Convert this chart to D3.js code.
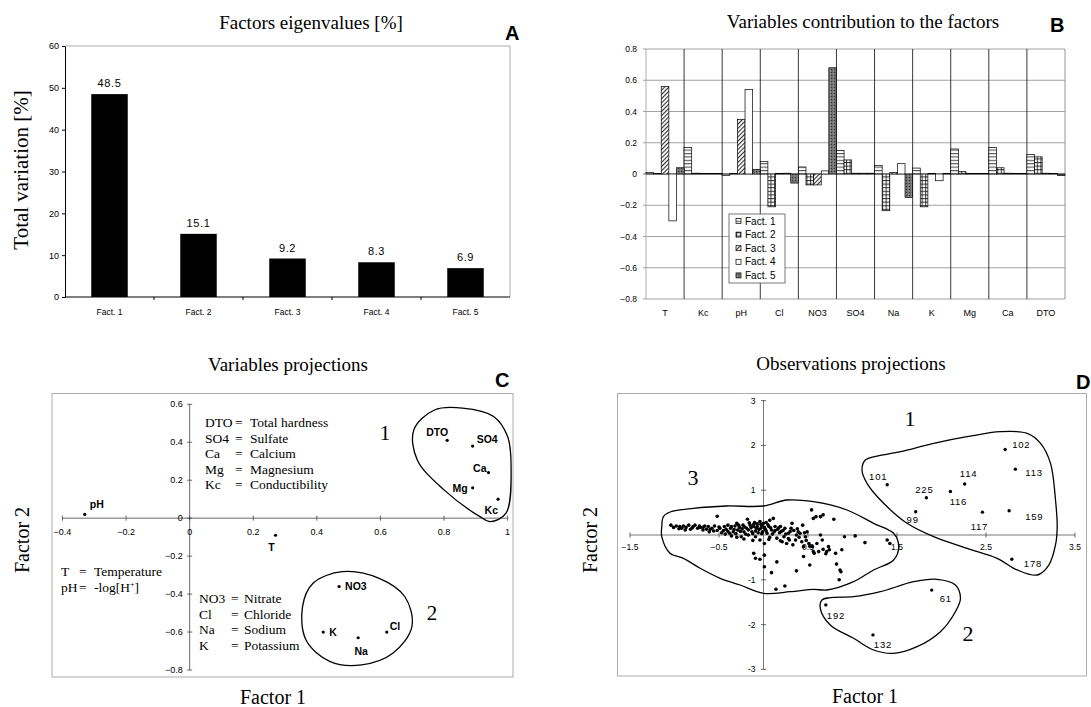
<!DOCTYPE html>
<html>
<head>
<meta charset="utf-8">
<script src="https://cdnjs.cloudflare.com/ajax/libs/d3/7.8.5/d3.min.js"></script>
<style>
  body { margin: 0; background: #fff; }
</style>
</head>
<body>
<div id="graphicContainer"></div>
<script>
// ---------- data ----------
// A: eigenvalues
var factors = ["Fact. 1", "Fact. 2", "Fact. 3", "Fact. 4", "Fact. 5"]
var eigenvalues = [48.5, 15.1, 9.2, 8.3, 6.9]
var eigenTicks = [0, 10, 20, 30, 40, 50, 60]

// B: variables contribution to the factors
var variables = ["T", "Kc", "pH", "Cl", "NO3", "SO4", "Na", "K", "Mg", "Ca", "DTO"]
var fact1 = [0.01, 0.17, -0.01, 0.08, 0.045, 0.15, 0.055, 0.038, 0.16, 0.17, 0.125]
var fact2 = [0.003, 0.005, 0.003, -0.21, -0.07, 0.09, -0.235, -0.21, 0.015, 0.04, 0.11]
var fact3 = [0.56, 0.003, 0.35, 0.004, -0.07, 0.005, 0.01, 0.003, 0.003, 0.005, 0.005]
var fact4 = [-0.30, 0.003, 0.54, 0.005, 0.02, 0.005, 0.066, -0.043, 0.003, 0.003, 0.003]
var fact5 = [0.04, 0.003, 0.03, -0.058, 0.68, 0.005, -0.15, 0.003, 0.003, 0.003, -0.01]
var contribTicks = [-0.8, -0.6, -0.4, -0.2, 0, 0.2, 0.4, 0.6, 0.8]

// C: variables projections
var varNames = ["pH", "T", "DTO", "SO4", "Ca", "Mg", "Kc", "NO3", "Cl", "Na", "K"]
var varF1 = [-0.33, 0.27, 0.81, 0.89, 0.94, 0.89, 0.97, 0.47, 0.62, 0.53, 0.42]
var varF2 = [0.02, -0.09, 0.41, 0.38, 0.24, 0.16, 0.10, -0.36, -0.60, -0.63, -0.60]
var varTicksX = [-0.4, -0.2, 0, 0.2, 0.4, 0.6, 0.8, 1]
var varTicksY = [-0.8, -0.6, -0.4, -0.2, 0, 0.2, 0.4, 0.6]
var varGroup1 = [[0.77, 0.57], [0.705, 0.465], [0.716, 0.307], [0.80, 0.149], [0.913, 0.008], [0.946, -0.018],
  [0.995, 0.026], [1.011, 0.27], [1.0, 0.43], [0.956, 0.536], [0.858, 0.58]]
var varGroup2 = [[0.48, -0.282], [0.388, -0.343], [0.355, -0.466], [0.366, -0.642], [0.442, -0.756], [0.541, -0.773],
  [0.639, -0.712], [0.699, -0.572], [0.677, -0.414], [0.596, -0.317]]
var legendTopAbbr = ["DTO", "SO4", "Ca", "Mg", "Kc"]
var legendTopText = ["Total hardness", "Sulfate", "Calcium", "Magnesium", "Conductibility"]
var legendLeftAbbr = ["T", "pH"]
var legendBottomAbbr = ["NO3", "Cl", "Na", "K"]
var legendBottomText = ["Nitrate", "Chloride", "Sodium", "Potassium"]

// D: observations projections
var obsIds = ["102", "113", "114", "116", "225", "101", "99", "117", "159", "178", "61", "132", "192"]
var obsF1 = [2.715, 2.83, 2.26, 2.10, 1.83, 1.39, 1.71, 2.46, 2.76, 2.79, 1.89, 1.23, 0.70]
var obsF2 = [1.91, 1.47, 1.14, 0.97, 0.83, 1.12, 0.52, 0.51, 0.54, -0.54, -1.23, -2.23, -1.56]
var obsCloud = [
  [-1.04, 0.22], [-1.01, 0.17], [-0.98, 0.20], [-0.95, 0.14], [-0.94, 0.19], [-0.92, 0.15], [-0.90, 0.20],
  [-0.88, 0.11], [-0.87, 0.17], [-0.84, 0.22], [-0.82, 0.13], [-0.80, 0.16], [-0.79, 0.19], [-0.77, 0.22],
  [-0.74, 0.15], [-0.72, 0.20], [-0.71, 0.17], [-0.68, 0.11], [-0.68, 0.17], [-0.66, 0.20], [-0.64, 0.13],
  [-0.62, 0.19], [-0.61, 0.07], [-0.60, 0.12], [-0.58, 0.15], [-0.56, 0.09], [-0.55, 0.20], [-0.52, 0.42],
  [-0.52, 0.10], [-0.50, 0.18], [-0.49, 0.15], [-0.47, 0.05], [-0.45, 0.10], [-0.44, 0.19], [-0.43, 0.02],
  [-0.42, 0.13], [-0.40, 0.22], [-0.40, 0.08], [-0.38, 0.04], [-0.37, 0.15], [-0.36, 0.19], [-0.36, -0.02],
  [-0.34, 0.07], [-0.33, 0.12], [-0.32, 0.20], [-0.31, 0.03], [-0.30, 0.26], [-0.30, -0.05], [-0.29, 0.11],
  [-0.28, 0.22], [-0.27, 0.17], [-0.26, 0.08], [-0.25, -0.04], [-0.24, 0.14], [-0.23, 0.22], [-0.22, 0.07],
  [-0.22, -0.09], [-0.21, 0.18], [-0.20, 0.02], [-0.19, 0.15], [-0.18, 0.35], [-0.17, 0.00], [-0.17, 0.11],
  [-0.16, 0.27], [-0.15, 0.22], [-0.14, 0.16], [-0.13, 0.07], [-0.12, 0.03], [-0.12, -0.12], [-0.11, 0.19],
  [-0.11, 0.24], [-0.10, 0.28], [-0.09, -0.04], [-0.09, 0.09], [-0.08, 0.15], [-0.07, 0.25], [-0.07, 0.19],
  [-0.06, 0.05], [-0.05, 0.12], [-0.04, 0.30], [-0.04, -0.11], [-0.03, 0.15], [-0.03, 0.24], [-0.02, 0.20],
  [-0.02, 0.03], [-0.01, 0.07], [0.00, 0.26], [0.01, -0.19], [0.01, 0.17], [0.02, 0.13], [0.03, 0.28],
  [0.03, 0.09], [0.04, 0.04], [0.05, 0.23], [0.06, 0.19], [0.06, -0.10], [0.07, 0.33], [0.07, -0.05],
  [0.08, 0.16], [0.09, 0.11], [0.10, 0.02], [0.11, 0.37], [0.12, 0.07], [0.13, 0.19], [0.13, 0.10],
  [0.15, -0.07], [0.16, 0.13], [0.17, 0.16], [0.18, 0.05], [0.19, 0.19], [0.19, -0.13], [0.20, 0.08],
  [0.21, -0.15], [0.22, 0.10], [0.23, -0.04], [0.24, 0.15], [0.25, 0.02], [0.26, -0.19], [0.28, 0.04],
  [0.28, -0.08], [0.29, -0.11], [0.30, 0.08], [0.31, 0.15], [0.32, 0.26], [0.33, -0.22], [0.34, 0.10],
  [0.36, -0.11], [0.37, 0.00], [0.38, 0.14], [0.39, 0.07], [0.40, -0.05], [0.41, 0.04], [0.43, -0.15],
  [0.44, 0.22], [0.45, -0.26], [0.46, 0.05], [0.47, -0.04], [0.48, -0.12], [0.49, 0.07], [0.51, -0.19],
  [0.52, -0.25], [0.54, 0.56], [0.55, -0.26], [0.56, 0.37], [0.57, -0.41], [0.59, 0.41], [0.60, -0.19],
  [0.62, -0.37], [0.64, 0.41], [0.64, 0.00], [0.66, -0.11], [0.67, 0.45], [0.70, -0.42], [0.71, -0.37],
  [0.73, -0.26], [0.74, -0.33], [0.79, 0.35], [0.81, -0.41], [0.82, -0.65], [0.86, -0.78], [0.87, -0.82],
  [0.88, -0.33], [0.85, -1.00], [0.91, -0.04], [1.03, -0.02], [1.14, -0.17], [1.39, -0.11], [1.42, -0.19],
  [-0.11, -0.41], [-0.09, -0.52], [-0.04, -0.54], [0.01, -0.45], [0.01, -0.71], [0.09, -0.84], [0.15, -0.60],
  [0.14, -1.21], [0.24, -1.14], [0.37, -0.80], [0.45, -0.48], [0.52, -0.67], [0.56, -0.37], [0.67, -0.32]
]
var obsTicksX = [-1.5, -0.5, 0.5, 1.5, 2.5, 3.5]
var obsTicksY = [-3, -2, -1, 1, 2, 3]
var obsGroup1 = [[1.144, 1.674], [1.107, 1.451], [1.163, 1.154], [1.35, 0.708], [1.613, 0.261], [1.912, -0.038],
  [2.288, -0.297], [2.625, -0.52], [2.85, -0.78], [3.075, -0.893], [3.206, -0.67], [3.281, -0.223], [3.30, 0.185],
  [3.281, 0.78], [3.225, 1.60], [3.113, 2.047], [2.963, 2.27], [2.663, 2.306], [2.288, 2.194], [1.912, 2.047],
  [1.538, 1.859], [1.276, 1.763]]
var obsGroup2 = [[0.657, -1.451], [0.638, -1.636], [0.75, -2.009], [1.012, -2.306], [1.237, -2.567], [1.462, -2.641],
  [1.726, -2.493], [1.988, -2.158], [2.156, -1.712], [2.213, -1.413], [2.156, -1.116], [1.95, -0.989],
  [1.687, -1.042], [1.313, -1.266], [1.012, -1.377], [0.75, -1.40]]
var obsGroup3 = [[-1.125, 0.408], [-1.143, 0.185], [-1.143, -0.038], [-1.05, -0.408], [-0.90, -0.52], [-0.712, -0.743],
  [-0.487, -0.966], [-0.262, -1.116], [0, -1.301], [0.30, -1.266], [0.562, -1.212], [0.713, -1.228], [1.012, -1.042],
  [1.237, -0.781], [1.462, -0.558], [1.519, -0.261], [1.462, 0.038], [1.237, 0.261], [0.938, 0.558], [0.562, 0.743],
  [0.263, 0.781], [0, 0.647], [-0.412, 0.647], [-0.787, 0.596], [-1.05, 0.513]]

// ---------- layout ----------
var serif = '"Liberation Serif", "Times New Roman", serif'
var sans = '"Liberation Sans", Arial, Helvetica, sans-serif'

var svg = d3.select("#graphicContainer").append("svg")
  .attr("width", 1091)
  .attr("height", 707)
  .style("display", "block")

function label(g, x, y, txt, size, family, anchor, weight) {
  return g.append("text")
    .attr("x", x)
    .attr("y", y)
    .attr("font-family", family)
    .attr("font-size", size)
    .attr("font-weight", weight || "normal")
    .attr("text-anchor", anchor || "start")
    .attr("fill", "#000")
    .text(txt)
}

function vLabel(g, x, y, txt, size) {
  return g.append("text")
    .attr("transform", "translate(" + x + "," + y + ") rotate(-90)")
    .attr("font-family", serif)
    .attr("font-size", size)
    .attr("text-anchor", "middle")
    .text(txt)
}

// patterns for panel B
var defs = svg.append("defs")
var p1 = defs.append("pattern").attr("id", "pat0").attr("patternUnits", "userSpaceOnUse")
  .attr("width", 4).attr("height", 3.4)
p1.append("rect").attr("width", 4).attr("height", 3.4).attr("fill", "#fff")
p1.append("line").attr("x1", 0).attr("x2", 4).attr("y1", 0.6).attr("y2", 0.6).attr("stroke", "#000").attr("stroke-width", 0.8)

var p2 = defs.append("pattern").attr("id", "pat1").attr("patternUnits", "userSpaceOnUse")
  .attr("width", 3.6).attr("height", 3.6)
p2.append("rect").attr("width", 3.6).attr("height", 3.6).attr("fill", "#fff")
p2.append("line").attr("x1", 0).attr("x2", 3.6).attr("y1", 0.6).attr("y2", 0.6).attr("stroke", "#000").attr("stroke-width", 0.8)
p2.append("line").attr("x1", 0.6).attr("x2", 0.6).attr("y1", 0).attr("y2", 3.6).attr("stroke", "#000").attr("stroke-width", 0.8)

var p3 = defs.append("pattern").attr("id", "pat2").attr("patternUnits", "userSpaceOnUse")
  .attr("width", 3).attr("height", 3).attr("patternTransform", "rotate(45)")
p3.append("rect").attr("width", 3).attr("height", 3).attr("fill", "#fff")
p3.append("line").attr("x1", 0.6).attr("x2", 0.6).attr("y1", 0).attr("y2", 3).attr("stroke", "#000").attr("stroke-width", 0.9)

var p4 = defs.append("pattern").attr("id", "pat3").attr("patternUnits", "userSpaceOnUse")
  .attr("width", 4).attr("height", 4)
p4.append("rect").attr("width", 4).attr("height", 4).attr("fill", "#fff")

var p5 = defs.append("pattern").attr("id", "pat4").attr("patternUnits", "userSpaceOnUse")
  .attr("width", 3).attr("height", 3)
p5.append("rect").attr("width", 3).attr("height", 3).attr("fill", "#707070")
p5.append("rect").attr("x", 0).attr("y", 0).attr("width", 1).attr("height", 1).attr("fill", "#333")
p5.append("rect").attr("x", 2).attr("y", 1.5).attr("width", 1).attr("height", 1).attr("fill", "#aaa")

// ========== PANEL A ==========
var gA = svg.append("g")
var xA = d3.scaleBand().domain(factors).range([65, 510]).paddingInner(0.59).paddingOuter(0.295)
var yA = d3.scaleLinear().domain([0, 60]).range([297, 46])

label(gA, 311, 29, "Factors eigenvalues [%]", 19, serif, "middle")
label(gA, 505, 40, "A", 20, sans, "start", "bold")
vLabel(gA, 28, 170, "Total variation [%]", 21)

gA.append("path")
  .attr("d", "M" + xA.range()[0] + "," + yA(60) + "H" + xA.range()[1] + "V" + yA(0))
  .attr("fill", "none").attr("stroke", "#999").attr("stroke-width", 0.8)

gA.append("g")
  .attr("transform", "translate(" + xA.range()[0] + ",0)")
  .call(d3.axisLeft(yA).tickValues(eigenTicks).tickSize(3).tickSizeOuter(0).tickPadding(3))
  .attr("font-family", sans).attr("font-size", 9)

gA.append("line")
  .attr("x1", xA.range()[0]).attr("x2", xA.range()[1])
  .attr("y1", yA(0)).attr("y2", yA(0))
  .attr("stroke", "#000")

gA.selectAll(".sep")
  .data(d3.range(1, factors.length))
  .enter().append("line")
  .attr("x1", function (d) { return xA.range()[0] + d * xA.step() })
  .attr("x2", function (d) { return xA.range()[0] + d * xA.step() })
  .attr("y1", yA(0)).attr("y2", yA(0) + 3)
  .attr("stroke", "#000")

gA.selectAll(".bar")
  .data(factors)
  .enter().append("rect")
  .attr("class", "bar")
  .attr("x", function (d) { return xA(d) })
  .attr("y", function (d, i) { return yA(eigenvalues[i]) })
  .attr("width", xA.bandwidth())
  .attr("height", function (d, i) { return yA(0) - yA(eigenvalues[i]) })
  .attr("fill", "#000")

gA.selectAll(".val")
  .data(factors)
  .enter().append("text")
  .attr("x", function (d) { return xA(d) + xA.bandwidth() / 2 })
  .attr("y", function (d, i) { return yA(eigenvalues[i]) - 7 })
  .attr("text-anchor", "middle")
  .attr("font-family", sans).attr("font-size", 11).attr("letter-spacing", 0.6)
  .text(function (d, i) { return eigenvalues[i] })

gA.selectAll(".cat")
  .data(factors)
  .enter().append("text")
  .attr("x", function (d) { return xA(d) + xA.bandwidth() / 2 })
  .attr("y", 315)
  .attr("text-anchor", "middle")
  .attr("font-family", sans).attr("font-size", 8.5)
  .text(function (d) { return d })

// ========== PANEL B ==========
var gB = svg.append("g")
var series = [fact1, fact2, fact3, fact4, fact5]
var xB = d3.scaleBand().domain(variables).range([646, 1065])
var xS = d3.scaleBand().domain(d3.range(series.length)).range([0, xB.bandwidth()])
var yB = d3.scaleLinear().domain([-0.8, 0.8]).range([299, 49])

label(gB, 863, 28, "Variables contribution to the factors", 19, serif, "middle")
label(gB, 1050, 32, "B", 20, sans, "start", "bold")

gB.selectAll(".hgrid")
  .data(contribTicks)
  .enter().append("line")
  .attr("x1", xB.range()[0] - 3).attr("x2", xB.range()[1])
  .attr("y1", function (d) { return yB(d) }).attr("y2", function (d) { return yB(d) })
  .attr("stroke", function (d) { return d === 0 ? "#555" : "#8c8c8c" })
  .attr("stroke-width", 0.8)

gB.selectAll(".vgrid")
  .data(variables.slice(1).concat(["end"]))
  .enter().append("line")
  .attr("x1", function (d) { return d === "end" ? xB.range()[1] : xB(d) })
  .attr("x2", function (d) { return d === "end" ? xB.range()[1] : xB(d) })
  .attr("y1", yB(0.8)).attr("y2", yB(-0.8))
  .attr("stroke", function (d) { return d === "end" ? "#888" : "#222" })
  .attr("stroke-width", 0.9)

gB.append("line")
  .attr("x1", xB.range()[0]).attr("x2", xB.range()[0])
  .attr("y1", yB(0.8)).attr("y2", yB(-0.8))
  .attr("stroke", "#999").attr("stroke-width", 0.8)

gB.selectAll(".ytick")
  .data(contribTicks)
  .enter().append("text")
  .attr("x", 637).attr("y", function (d) { return yB(d) + 3 })
  .attr("text-anchor", "end")
  .attr("font-family", sans).attr("font-size", 8.5)
  .text(function (d) { return d === 0 ? "0" : d3.format(".1f")(d) })

series.forEach(function (vals, s) {
  gB.selectAll(".bar" + s)
    .data(variables)
    .enter().append("rect")
    .attr("x", function (d) { return xB(d) + xS(s) })
    .attr("y", function (d, i) { return yB(Math.max(vals[i], 0)) })
    .attr("width", xS.bandwidth())
    .attr("height", function (d, i) { return Math.abs(yB(vals[i]) - yB(0)) })
    .attr("fill", "url(#pat" + s + ")")
    .attr("stroke", "#000").attr("stroke-width", 0.7)
})

gB.selectAll(".vcat")
  .data(variables)
  .enter().append("text")
  .attr("x", function (d) { return xB(d) + xB.bandwidth() / 2 })
  .attr("y", 316)
  .attr("text-anchor", "middle")
  .attr("font-family", sans).attr("font-size", 9)
  .text(function (d) { return d })

var legB = gB.append("g").attr("transform", "translate(729,214)")
legB.append("rect").attr("width", 56).attr("height", 69)
  .attr("fill", "#fff").attr("stroke", "#555").attr("stroke-width", 0.8)
factors.forEach(function (f, s) {
  legB.append("rect")
    .attr("x", 7).attr("y", 4.5 + s * 13.6)
    .attr("width", 5).attr("height", 5)
    .attr("fill", "url(#pat" + s + ")").attr("stroke", "#000").attr("stroke-width", 0.7)
  label(legB, 16, 10.5 + s * 13.6, f, 10, sans)
})

// ========== PANEL C ==========
var gC = svg.append("g")
var xC = d3.scaleLinear().domain([-0.4, 1]).range([62.5, 507.6])
var yC = d3.scaleLinear().domain([-0.8, 0.6]).range([670, 404.3])

label(gC, 288, 371, "Variables projections", 19, serif, "middle")
label(gC, 495, 387, "C", 20, sans, "start", "bold")
vLabel(gC, 29, 540, "Factor 2", 20)
label(gC, 273, 704, "Factor 1", 20, serif, "middle")

gC.append("rect").attr("x", 52).attr("y", 393.5).attr("width", 461).attr("height", 283.5)
  .attr("fill", "none").attr("stroke", "#999").attr("stroke-width", 0.8)

gC.append("line").attr("x1", xC(-0.4)).attr("x2", xC(1)).attr("y1", yC(0)).attr("y2", yC(0))
  .attr("stroke", "#444").attr("stroke-width", 0.8)
gC.append("line").attr("x1", xC(0)).attr("x2", xC(0)).attr("y1", yC(0.6)).attr("y2", yC(-0.8))
  .attr("stroke", "#444").attr("stroke-width", 0.8)

gC.selectAll(".xt").data(varTicksX).enter().append("line")
  .attr("x1", function (d) { return xC(d) }).attr("x2", function (d) { return xC(d) })
  .attr("y1", yC(0) - 2.5).attr("y2", yC(0) + 2.5).attr("stroke", "#444").attr("stroke-width", 0.8)
gC.selectAll(".yt").data(varTicksY).enter().append("line")
  .attr("x1", xC(0) - 2.5).attr("x2", xC(0) + 2.5)
  .attr("y1", function (d) { return yC(d) }).attr("y2", function (d) { return yC(d) })
  .attr("stroke", "#444").attr("stroke-width", 0.8)

gC.selectAll(".xl").data(varTicksX).enter().append("text")
  .attr("x", function (d) { return xC(d) }).attr("y", yC(0) + 17)
  .attr("text-anchor", "middle").attr("font-family", sans).attr("font-size", 9)
  .text(function (d) { return d === 0 ? "0" : (d === 1 ? "1" : d3.format(".1f")(d)) })
gC.selectAll(".yl").data(varTicksY).enter().append("text")
  .attr("x", xC(0) - 7).attr("y", function (d) { return yC(d) + 3 })
  .attr("text-anchor", "end").attr("font-family", sans).attr("font-size", 9)
  .text(function (d) { return d === 0 ? "0" : d3.format(".1f")(d) })

var closedCurve = function (xs, ys) {
  return d3.line()
    .x(function (d) { return xs(d[0]) })
    .y(function (d) { return ys(d[1]) })
    .curve(d3.curveCatmullRomClosed.alpha(0.5))
}

;[varGroup1, varGroup2].forEach(function (grp) {
  gC.append("path").attr("d", closedCurve(xC, yC)(grp))
    .attr("fill", "none").attr("stroke", "#000").attr("stroke-width", 1.3)
})

gC.selectAll(".vdot").data(varNames).enter().append("circle")
  .attr("cx", function (d, i) { return xC(varF1[i]) })
  .attr("cy", function (d, i) { return yC(varF2[i]) })
  .attr("r", 1.6).attr("fill", "#000")

var varLabelPos = {
  "DTO": [1, -4, "end"], "SO4": [4, -3, "start"], "Ca": [-2, -1, "end"], "Mg": [-5, 4, "end"],
  "Kc": [0, 15, "end"], "pH": [5, -6, "start"], "T": [-4, 16, "middle"], "NO3": [6, 4, "start"],
  "Cl": [3, -2, "start"], "K": [6, 4, "start"], "Na": [3, 17, "middle"]
}
gC.selectAll(".vlab").data(varNames).enter().append("text")
  .attr("x", function (d, i) { return xC(varF1[i]) + varLabelPos[d][0] })
  .attr("y", function (d, i) { return yC(varF2[i]) + varLabelPos[d][1] })
  .attr("text-anchor", function (d) { return varLabelPos[d][2] })
  .attr("font-family", sans).attr("font-size", 10.5).attr("font-weight", "bold")
  .text(function (d) { return d })

label(gC, 385, 440, "1", 21, serif, "middle")
label(gC, 432, 620, "2", 21, serif, "middle")

legendTopAbbr.forEach(function (a, i) {
  var yy = 427 + i * 15.6
  label(gC, 205, yy, a, 13.5, serif)
  label(gC, 235, yy, "=", 13.5, serif)
  label(gC, 250, yy, legendTopText[i], 13.5, serif)
})

label(gC, 61, 576, legendLeftAbbr[0], 13.5, serif)
label(gC, 79, 576, "=", 13.5, serif)
label(gC, 94, 576, "Temperature", 13.5, serif)
label(gC, 61, 592, legendLeftAbbr[1], 13.5, serif)
label(gC, 79, 592, "=", 13.5, serif)
var ph = label(gC, 94, 592, "-log[H", 13.5, serif)
ph.append("tspan").attr("font-size", 8).attr("dy", -5).text("+")
ph.append("tspan").attr("dy", 5).text("]")

legendBottomAbbr.forEach(function (a, i) {
  var yy = 603 + i * 15.6
  label(gC, 199, yy, a, 13.5, serif)
  label(gC, 231, yy, "=", 13.5, serif)
  label(gC, 244, yy, legendBottomText[i], 13.5, serif)
})

// ========== PANEL D ==========
var gD = svg.append("g")
var xD = d3.scaleLinear().domain([-1.5, 3.5]).range([630, 1075])
var yD = d3.scaleLinear().domain([-3, 3]).range([669.4, 400.6])

label(gD, 851, 370, "Observations projections", 19, serif, "middle")
label(gD, 1076, 389, "D", 20, sans, "start", "bold")
vLabel(gD, 597, 540, "Factor 2", 20)
label(gD, 865, 703, "Factor 1", 20, serif, "middle")

gD.append("rect").attr("x", 617.5).attr("y", 393.5).attr("width", 469).attr("height", 282.5)
  .attr("fill", "none").attr("stroke", "#999").attr("stroke-width", 0.8)

gD.append("line").attr("x1", xD(-1.5)).attr("x2", xD(3.5)).attr("y1", yD(0)).attr("y2", yD(0))
  .attr("stroke", "#555").attr("stroke-width", 0.8)
gD.append("line").attr("x1", xD(0)).attr("x2", xD(0)).attr("y1", yD(3)).attr("y2", yD(-3))
  .attr("stroke", "#555").attr("stroke-width", 0.8)

gD.selectAll(".xt").data(obsTicksX).enter().append("line")
  .attr("x1", function (d) { return xD(d) }).attr("x2", function (d) { return xD(d) })
  .attr("y1", yD(0) - 2.5).attr("y2", yD(0) + 2.5).attr("stroke", "#444").attr("stroke-width", 0.8)
gD.selectAll(".yt").data(obsTicksY).enter().append("line")
  .attr("x1", xD(0) - 2.5).attr("x2", xD(0) + 2.5)
  .attr("y1", function (d) { return yD(d) }).attr("y2", function (d) { return yD(d) })
  .attr("stroke", "#444").attr("stroke-width", 0.8)

gD.selectAll(".xl").data(obsTicksX).enter().append("text")
  .attr("x", function (d) { return xD(d) }).attr("y", yD(0) + 15)
  .attr("text-anchor", "middle").attr("font-family", sans).attr("font-size", 8.5)
  .text(function (d) { return d3.format(".1f")(d) })
gD.selectAll(".yl").data(obsTicksY).enter().append("text")
  .attr("x", xD(0) - 8).attr("y", function (d) { return yD(d) + 3 })
  .attr("text-anchor", "end").attr("font-family", sans).attr("font-size", 8.5)
  .text(function (d) { return d })

;[obsGroup1, obsGroup2, obsGroup3].forEach(function (grp) {
  gD.append("path").attr("d", closedCurve(xD, yD)(grp))
    .attr("fill", "none").attr("stroke", "#000").attr("stroke-width", 1.3)
})

gD.selectAll(".cdot").data(obsCloud).enter().append("circle")
  .attr("cx", function (d) { return xD(d[0]) })
  .attr("cy", function (d) { return yD(d[1]) })
  .attr("r", 1.8).attr("fill", "#000")

gD.selectAll(".odot").data(obsIds).enter().append("circle")
  .attr("cx", function (d, i) { return xD(obsF1[i]) })
  .attr("cy", function (d, i) { return yD(obsF2[i]) })
  .attr("r", 1.7).attr("fill", "#000")

var obsLabelPos = {
  "102": [7, -1, "start"], "113": [10, 7, "start"], "114": [4, -7, "middle"], "116": [8, 13, "middle"],
  "225": [-2, -5, "middle"], "101": [-9, -5, "middle"], "99": [-3, 11, "middle"], "117": [-3, 18, "middle"],
  "159": [16, 9, "start"], "178": [12, 8, "start"], "61": [8, 12, "start"], "132": [10, 13, "middle"],
  "192": [1, 14, "start"]
}
gD.selectAll(".olab").data(obsIds).enter().append("text")
  .attr("x", function (d, i) { return xD(obsF1[i]) + obsLabelPos[d][0] })
  .attr("y", function (d, i) { return yD(obsF2[i]) + obsLabelPos[d][1] })
  .attr("text-anchor", function (d) { return obsLabelPos[d][2] })
  .attr("font-family", sans).attr("font-size", 9.5).attr("letter-spacing", 0.8)
  .text(function (d) { return d })

label(gD, 910, 426, "1", 22, serif, "middle")
label(gD, 968, 641, "2", 22, serif, "middle")
label(gD, 693, 485, "3", 22, serif, "middle")
</script>
</body>
</html>
